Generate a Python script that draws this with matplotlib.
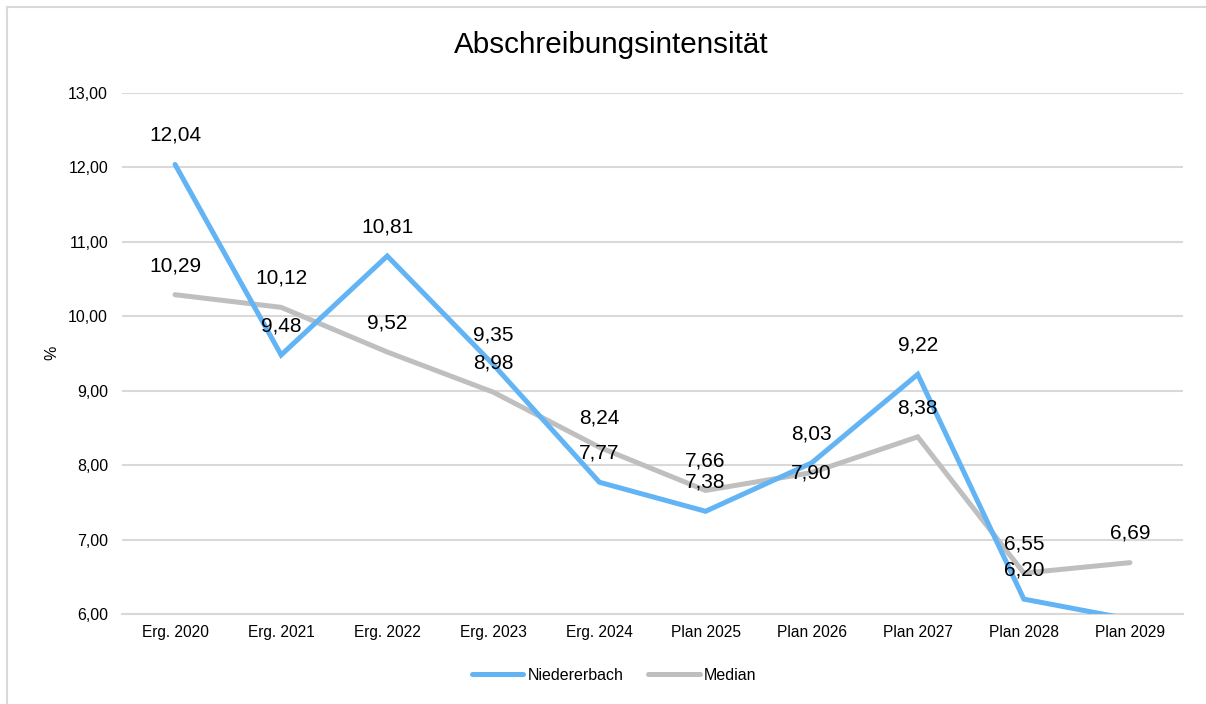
import matplotlib
matplotlib.use("Agg")
import matplotlib.pyplot as plt
from matplotlib.lines import Line2D

plt.rcParams['font.family'] = ['Liberation Sans', 'DejaVu Sans']

categories = ["Erg. 2020", "Erg. 2021", "Erg. 2022", "Erg. 2023", "Erg. 2024",
              "Plan 2025", "Plan 2026", "Plan 2027", "Plan 2028", "Plan 2029"]
niedererbach = [12.04, 9.48, 10.81, 9.35, 7.77, 7.38, 8.03, 9.22, 6.20, 5.93]
median = [10.29, 10.12, 9.52, 8.98, 8.24, 7.66, 7.90, 8.38, 6.55, 6.69]
yticks = [6, 7, 8, 9, 10, 11, 12, 13]

blue = "#63B4F5"
grey = "#BFBFBF"

W, H = 1206, 704
fig = plt.figure(figsize=(W / 100, H / 100), dpi=100)
ax = fig.add_axes([122 / W, 1 - 614 / H, (1183 - 122) / W, (614 - 93) / H])

x = list(range(len(categories)))
ax.plot(x, niedererbach, color=blue, lw=3.6, solid_joinstyle='miter',
        solid_capstyle='round', zorder=3, label="Niedererbach")
ax.plot(x, median, color=grey, lw=3.6, solid_joinstyle='miter',
        solid_capstyle='round', zorder=2, label="Median")

ax.set_xlim(-0.5, len(categories) - 0.5)
ax.set_ylim(6, 13)
ax.set_yticks(yticks)
ax.set_yticklabels([f"{v:.2f}".replace(".", ",") for v in yticks], fontsize=11.5)
ax.set_xticks(x)
ax.set_xticklabels(categories, fontsize=11.2)
ax.tick_params(length=0, pad=10, axis='y')
ax.tick_params(length=0, pad=8, axis='x')
ax.grid(axis='y', color='#D9D9D9', lw=1.5)
ax.set_axisbelow(True)
for s in ax.spines.values():
    s.set_visible(False)
ax.spines['bottom'].set_visible(True)
ax.spines['bottom'].set_color('#D9D9D9')
ax.spines['bottom'].set_linewidth(1.5)

fig.text(52 / W, 1 - 353 / H, "%", rotation=90, ha='center', va='center',
         fontsize=11.5)

def fmt(v):
    return f"{v:.2f}".replace(".", ",")

for i, v in enumerate(niedererbach):
    if v >= 6:
        ax.annotate(fmt(v), (i, v), xytext=(0, 21), textcoords='offset points',
                    ha='center', va='center', fontsize=15, clip_on=False)
for i, v in enumerate(median):
    dy = 0 if categories[i] == "Plan 2026" else 21
    ax.annotate(fmt(v), (i, v), xytext=(0, dy), textcoords='offset points',
                ha='center', va='center', fontsize=15, zorder=5)

fig.text(611 / W, 1 - 45 / H, "Abschreibungsintensität", ha='center', va='center',
         fontsize=21.3)

leg = fig.legend(loc='center', bbox_to_anchor=(614 / W, 1 - 675 / H), ncol=2,
                 frameon=False, fontsize=11.5, handlelength=3.25,
                 handletextpad=0.25, columnspacing=1.55)

fig.add_artist(Line2D([7 / W, 1], [1 - 7 / H, 1 - 7 / H], transform=fig.transFigure,
                      color='#D9D9D9', lw=1.5))
fig.add_artist(Line2D([7 / W, 7 / W], [0, 1 - 7 / H], transform=fig.transFigure,
                      color='#D9D9D9', lw=1.5))

fig.savefig("out.png", dpi=100, facecolor='white')
